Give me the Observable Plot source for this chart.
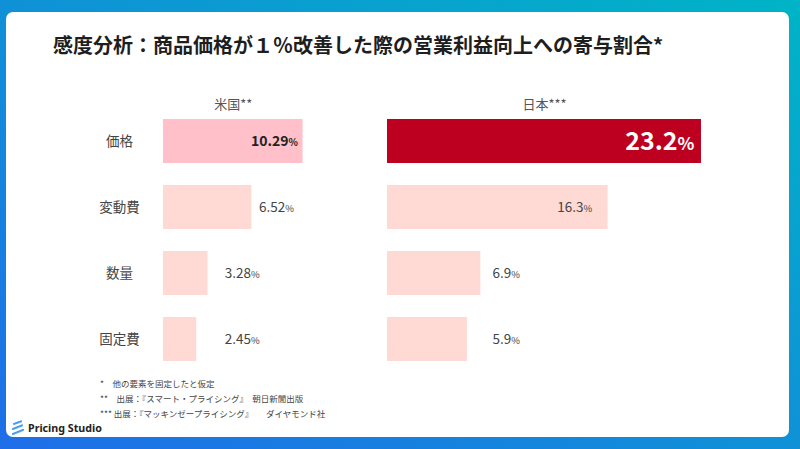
<!DOCTYPE html>
<html><head><meta charset="utf-8">
<script src="https://cdn.jsdelivr.net/npm/d3@7"></script>
<script src="https://cdn.jsdelivr.net/npm/@observablehq/plot@0.6"></script>
<style>
html,body{margin:0;padding:0;}
body{width:800px;height:449px;overflow:hidden;position:relative;background:linear-gradient(to top right,#1f6ee8,#00b4c6);font-family:"Noto Sans CJK JP","Noto Sans",sans-serif;}
#card{position:absolute;left:6px;top:12px;width:783px;height:425px;background:#fff;border-radius:7px;}
#title{position:absolute;left:53px;top:31px;font-size:20px;font-weight:700;color:#1e1e1e;line-height:28px;white-space:nowrap;}
.plot{position:absolute;top:80px;}
#notes{position:absolute;left:100px;top:376px;font-size:8.5px;color:#444;line-height:15px;white-space:pre;}
#logo{position:absolute;left:11px;top:419px;height:18px;display:flex;align-items:center;gap:3px;}
#logo span{font-family:"Noto Sans",sans-serif;font-weight:700;font-size:10.7px;color:#222;}
</style></head>
<body>
<div id="card"></div>
<div id="title"></div>
<div id="us" class="plot" style="left:0px"></div>
<div id="jp" class="plot" style="left:380px"></div>
<div id="notes"></div>
<div id="logo"><svg width="14" height="16" viewBox="0 0 14 16"><defs><linearGradient id="lg" x1="0" x2="1" y1="0" y2="1"><stop offset="0" stop-color="#1f6ee8"/><stop offset="1" stop-color="#7fd0f0"/></linearGradient></defs><g stroke="url(#lg)" stroke-width="2.2" stroke-linecap="round"><line x1="3" y1="4" x2="10" y2="1.5"/><line x1="2" y1="9" x2="11" y2="5.5"/><line x1="2" y1="14" x2="12" y2="10"/></g></svg><span>Pricing Studio</span></div>
<script>
const chartTitle = "感度分析：商品価格が１％改善した際の営業利益向上への寄与割合*";
const categories = ["価格", "変動費", "数量", "固定費"];
const usValues = [10.29, 6.52, 3.28, 2.45];
const jpValues = [23.2, 16.3, 6.9, 5.9];
const usLabels = ["10.29", "6.52", "3.28", "2.45"];
const jpLabels = ["23.2", "16.3", "6.9", "5.9"];
const panelTitles = ["米国**", "日本***"];
const footnotes = [
  "*　他の要素を固定したと仮定",
  "**　出展：『スマート・プライシング』　朝日新聞出版",
  "*** 出展：『マッキンゼープライシング』　　ダイヤモンド社"
];

document.getElementById("title").textContent = chartTitle;
document.getElementById("notes").textContent = footnotes.join("\n");

const FONT = '"Noto Sans CJK JP","Noto Sans",sans-serif';

function panel(cfg) {
  const data = categories.map((c, i) => ({cat: c, v: cfg.values[i], label: cfg.labels[i], i}));
  const max = d3.max(cfg.values);
  const hi = data.filter(d => d.i === 0);
  const rest = data.filter(d => d.i !== 0);
  const inside = rest.filter(d => d.v / max > 0.65);
  const outside = rest.filter(d => d.v / max <= 0.65);
  const marks = [
    Plot.barX(rest, {y: "cat", x: "v", fill: "#ffd9d3"}),
    Plot.barX(hi, {y: "cat", x: "v", fill: cfg.hiFill}),
    Plot.text([cfg.title], {x: () => max / 2, frameAnchor: "top", dy: 4, fontSize: 13, fill: "#555"}),
    Plot.text(hi, {x: "v", y: "cat", text: "label", textAnchor: "end", dx: cfg.hiDx, fontSize: cfg.hiSize, fontWeight: "bold", fill: cfg.hiText}),
    Plot.text(inside, {x: "v", y: "cat", text: "label", textAnchor: "end", dx: -16, fontSize: 13.5, fill: "#444"}),
    Plot.text(outside, {x: d => Math.max(d.v, cfg.floor), y: "cat", text: "label", textAnchor: "start", dx: 7, fontSize: 13.5, fill: "#444"})
  ];
  if (cfg.showCats) {
    marks.push(Plot.text(categories, {y: d => d, frameAnchor: "left", dx: -44, textAnchor: "middle", fontSize: 13.5, fill: "#444"}));
  }
  const svg = Plot.plot({
    width: cfg.width, height: 305,
    marginTop: 15, marginBottom: 0, marginLeft: cfg.marginLeft, marginRight: cfg.marginRight,
    x: {domain: [0, cfg.xMax], axis: null},
    y: {domain: categories, padding: 0.33, axis: null},
    style: {fontFamily: FONT, background: "transparent", overflow: "visible"},
    marks
  });
  d3.select(svg).selectAll("text").each(function() {
    const t = this.textContent;
    if (/^\d+(\.\d+)?$/.test(t)) {
      const fs = parseFloat(this.parentNode.getAttribute("font-size")) || 13.5;
      d3.select(this).append("tspan").attr("font-size", fs * 0.7).text("%");
    }
  });
  document.getElementById(cfg.id).appendChild(svg);
}

panel({id: "us", values: usValues, labels: usLabels, title: panelTitles[0], showCats: true,
  width: 380, marginLeft: 163, marginRight: 0, xMax: 16, hiFill: "#ffc0c9", hiText: "#222", hiSize: 14, hiDx: -5, floor: 4});
panel({id: "jp", values: jpValues, labels: jpLabels, title: panelTitles[1], showCats: false,
  width: 420, marginLeft: 7, marginRight: 7, xMax: 30, hiFill: "#be0020", hiText: "#fff", hiSize: 25, hiDx: -7, floor: 7.25});
</script>
</body></html>
